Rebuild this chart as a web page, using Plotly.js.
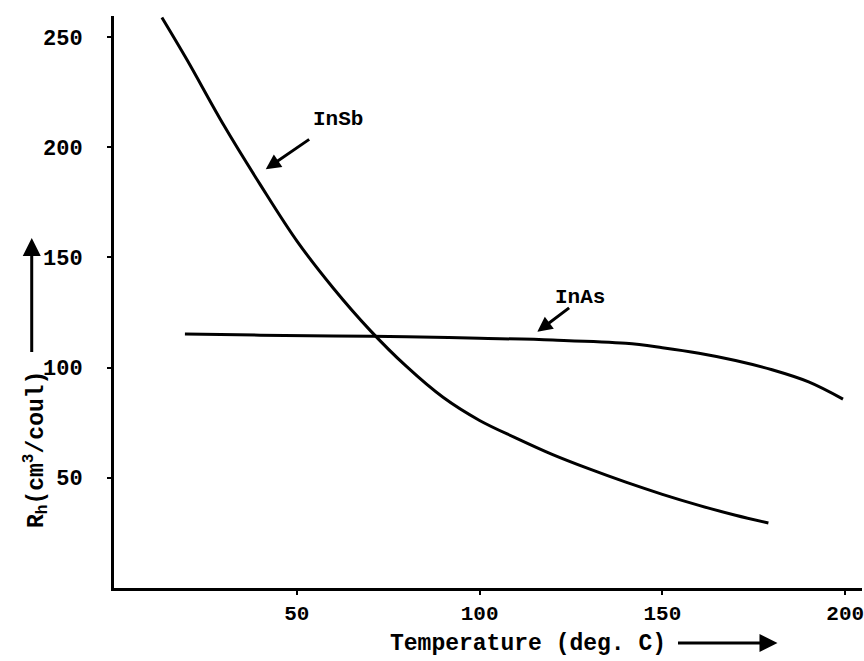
<!DOCTYPE html>
<html>
<head>
<meta charset="utf-8">
<script src="https://cdn.plot.ly/plotly-3.0.1.min.js"></script>
<style>html,body{margin:0;padding:0;background:#fff;}#chart{width:864px;height:661px;}</style>
</head>
<body>
<div id="chart"></div>
<script>
// Temperature (deg. C) and Hall coefficient R_h (cm^3/coul)
var insbTemp = [13.1, 20, 30, 40, 50, 60, 70, 80, 90, 100, 110, 120, 130, 140, 150, 160, 170, 179];
var insbRh   = [258.8, 239.5, 210, 183, 157.5, 136, 117, 100.5, 86.5, 76, 68, 60.5, 54, 48, 42.5, 37.5, 33, 29.5];
var inasTemp = [19.4, 40, 60, 80, 100, 120, 140, 150, 160, 170, 180, 190, 199.4];
var inasRh   = [115.2, 114.7, 114.3, 114, 113.3, 112.5, 111, 109, 106.5, 103.2, 99, 93.5, 85.7];
var xTicks = [50, 100, 150, 200];
var xTickLabels = ['50', '100', '150', '200'];
var yTicks = [50, 100, 150, 200, 250];
var yTickLabels = ['50', '100', '150', '200', '250'];

var FONT = 'Liberation Mono, DejaVu Sans Mono, monospace';

var traces = [
  {x: insbTemp, y: insbRh, name: 'InSb', type: 'scatter', mode: 'lines',
   line: {color: '#000', width: 3, shape: 'spline', smoothing: 1}},
  {x: inasTemp, y: inasRh, name: 'InAs', type: 'scatter', mode: 'lines',
   line: {color: '#000', width: 3, shape: 'spline', smoothing: 1}}
];

var layout = {
  width: 864, height: 661,
  margin: {l: 114, r: 2, t: 16, b: 73},
  paper_bgcolor: '#fff', plot_bgcolor: '#fff',
  showlegend: false,
  font: {family: FONT, color: '#000', size: 22, weight: 'bold'},
  xaxis: {
    range: [0, 204.6], showgrid: false, zeroline: false,
    showline: true, linewidth: 3, linecolor: '#000',
    ticks: 'outside', ticklen: 4, tickwidth: 2, tickcolor: '#000',
    tickvals: xTicks, ticktext: xTickLabels, ticklabelstandoff: 0,
    ticklabeloverflow: 'allow',
    tickfont: {family: FONT, size: 21, color: '#000', weight: 'bold'}
  },
  yaxis: {
    range: [0, 259.5], showgrid: false, zeroline: false,
    showline: true, linewidth: 3, linecolor: '#000',
    ticks: 'outside', ticklen: 4, tickwidth: 2, tickcolor: '#000',
    tickvals: yTicks, ticktext: yTickLabels, ticklabelstandoff: 20,
    tickfont: {family: FONT, size: 22, color: '#000', weight: 'bold'}
  },
  annotations: [
    {xref: 'paper', yref: 'paper', x: 0.553, y: -0.098, xanchor: 'center', yanchor: 'middle',
     text: 'Temperature (deg. C)', showarrow: false,
     font: {family: FONT, size: 23, color: '#000', weight: 'bold'}},
    {xref: 'paper', yref: 'paper', x: 0.887, y: -0.096, ax: 0.752, ay: -0.096,
     axref: 'paper', ayref: 'paper', text: '', showarrow: true,
     arrowhead: 2, arrowsize: 1.2, arrowwidth: 3, arrowcolor: '#000'},
    {xref: 'paper', yref: 'paper', x: -0.105, y: 0.242, xanchor: 'center', yanchor: 'middle',
     textangle: -90, text: 'R<sub>h</sub>(cm<sup>3</sup>/coul)', showarrow: false,
     font: {family: FONT, size: 23, color: '#000', weight: 'bold'}},
    {xref: 'paper', yref: 'paper', x: -0.11, y: 0.612, ax: -0.11, ay: 0.41,
     axref: 'paper', ayref: 'paper', text: '', showarrow: true,
     arrowhead: 2, arrowsize: 1.2, arrowwidth: 3, arrowcolor: '#000'},
    {x: 61.4, y: 212.5, text: 'InSb', showarrow: false,
     font: {family: FONT, size: 21, color: '#000', weight: 'bold'}},
    {x: 41.5, y: 190, ax: 53.8, ay: 204, axref: 'x', ayref: 'y', text: '', showarrow: true,
     arrowhead: 2, arrowsize: 1, arrowwidth: 3, arrowcolor: '#000'},
    {x: 127.4, y: 131.7, text: 'InAs', showarrow: false,
     font: {family: FONT, size: 21, color: '#000', weight: 'bold'}},
    {x: 115.8, y: 116.2, ax: 124.9, ay: 127.6, axref: 'x', ayref: 'y', text: '', showarrow: true,
     arrowhead: 2, arrowsize: 1, arrowwidth: 3, arrowcolor: '#000'}
  ]
};

Plotly.newPlot('chart', traces, layout, {displayModeBar: false, staticPlot: true});
</script>
</body>
</html>
